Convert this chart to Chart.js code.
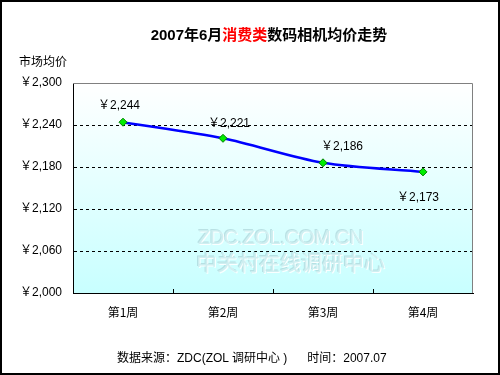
<!DOCTYPE html>
<html>
<head>
<meta charset="utf-8">
<script src="https://cdn.jsdelivr.net/npm/chart.js@4.4.0/dist/chart.umd.min.js"></script>
<style>
    html, body { margin: 0; padding: 0; background: #fff; }
    #box {
        position: relative; width: 500px; height: 375px;
        box-sizing: border-box; border: 2px solid #000; background: #fff;
        font-family: "Liberation Sans", Arial, "Noto Sans CJK SC", sans-serif;
        overflow: hidden;
    }
    #myChart { position: absolute; left: -2px; top: -2px; }
    .txt { position: absolute; white-space: nowrap; color: #000; }
    #title { left: 0; width: 500px; top: 21px; text-align: center; font-size: 15px; font-weight: bold; padding-left: 34px; box-sizing: border-box; }
    #title span { color: #ff0000; }
    #ytitle { left: 17px; top: 50px; font-size: 12px; }
    #foot { left: 115px; top: 346px; font-size: 12px; }
    .wm { color: rgba(205, 238, 240, 0.95); text-shadow: 1px 1px 0 rgba(255,255,255,0.9), -1px -1px 0 rgba(160,200,205,0.55); }
    #wm1 { left: 196px; top: 224px; font-size: 20px; letter-spacing: -0.5px; }
    #wm2 { left: 194px; top: 244px; font-size: 21px; }
</style>
</head>
<body>
<div id="box">
    <canvas id="myChart" width="500" height="375"></canvas>
    <div class="txt wm" id="wm1">ZDC.ZOL.COM.CN</div>
    <div class="txt wm" id="wm2">中关村在线调研中心</div>
    <div class="txt" id="title">2007年6月<span>消费类</span>数码相机均价走势</div>
    <div class="txt" id="ytitle">市场均价</div>
    <div class="txt" id="foot">数据来源：ZDC(ZOL 调研中心 )&nbsp;&nbsp;&nbsp;&nbsp;&nbsp;&nbsp;时间：2007.07</div>
</div>
<script>
// data
var weeks = ['第1周', '第2周', '第3周', '第4周'];
var avgPrice = [2244, 2221, 2186, 2173];
var yMin = 2000;
var yMax = 2300;
var yStep = 60;

// where each value label sits relative to its point (px)
var labelOffsets = [[-4, -17], [6, -15], [19, -16], [-5, 26]];

var numFont = '"Liberation Sans", Arial, "Noto Sans CJK SC", sans-serif';

function yen(v) {
    return '￥' + v.toLocaleString('en-US');
}

// plot background, border, small category ticks, value labels
var excelLook = {
    id: 'excelLook',
    beforeDraw: function (chart) {
        var ctx = chart.ctx, a = chart.chartArea;
        var g = ctx.createLinearGradient(0, a.top, 0, a.bottom);
        g.addColorStop(0, '#ffffff');
        g.addColorStop(1, '#c8ffff');
        ctx.save();
        ctx.fillStyle = g;
        ctx.fillRect(a.left, a.top, a.right - a.left, a.bottom - a.top);
        ctx.restore();
    },
    afterDatasetsDraw: function (chart) {
        var ctx = chart.ctx, a = chart.chartArea;
        var xs = chart.scales.x;
        ctx.save();
        // gray frame top/right
        ctx.strokeStyle = '#808080';
        ctx.lineWidth = 1;
        ctx.beginPath();
        ctx.moveTo(a.left, a.top + 0.5);
        ctx.lineTo(a.right - 0.5, a.top + 0.5);
        ctx.lineTo(a.right - 0.5, a.bottom);
        ctx.stroke();
        // category boundary ticks
        ctx.strokeStyle = '#000';
        ctx.beginPath();
        for (var i = 1; i < weeks.length; i++) {
            var x = Math.round((xs.getPixelForValue(i - 1) + xs.getPixelForValue(i)) / 2) + 0.5;
            ctx.moveTo(x, a.bottom);
            ctx.lineTo(x, a.bottom - 4);
        }
        ctx.stroke();
        // value labels
        ctx.fillStyle = '#000';
        ctx.font = '12px ' + numFont;
        ctx.textAlign = 'center';
        ctx.textBaseline = 'middle';
        var meta = chart.getDatasetMeta(0);
        meta.data.forEach(function (pt, i) {
            ctx.fillText(yen(avgPrice[i]), pt.x + labelOffsets[i][0], pt.y + labelOffsets[i][1]);
        });
        ctx.restore();
    }
};

const data1 = {
    labels: weeks,
    datasets: [{
        label: '市场均价',
        data: avgPrice,
        borderColor: '#0000ff',
        borderWidth: 2.5,
        tension: 0.3,
        pointStyle: 'rectRot',
        pointRadius: 4,
        pointBackgroundColor: '#00ee00',
        pointBorderColor: '#008000',
        pointBorderWidth: 1
    }]
};

const config = {
    type: 'line',
    data: data1,
    options: {
        responsive: false,
        animation: false,
        devicePixelRatio: 1,
        layout: { padding: { left: 0, top: 83, right: 27, bottom: 52 } },
        plugins: {
            legend: { display: false },
            tooltip: { enabled: false }
        },
        scales: {
            x: {
                offset: true,
                afterFit: function (s) { s.height = 30; },
                grid: { display: false },
                border: { color: '#000', width: 1 },
                ticks: {
                    color: '#000',
                    padding: 4,
                    font: { size: 12, family: '"Noto Sans CJK SC", "Liberation Sans", sans-serif' }
                }
            },
            y: {
                min: yMin,
                max: yMax,
                afterFit: function (s) { s.width = 73; },
                afterBuildTicks: function (s) {
                    var t = [];
                    for (var v = yMin; v <= yMax; v += yStep) t.push({ value: v });
                    s.ticks = t;
                },
                border: { color: '#000', width: 1, dash: [3, 3] },
                grid: {
                    drawTicks: false,
                    color: function (c) {
                        return (c.tick.value === yMin || c.tick.value === yMax) ? 'rgba(0,0,0,0)' : '#000';
                    },
                    lineWidth: 1
                },
                ticks: {
                    color: '#000',
                    padding: 11,
                    font: { size: 12, family: numFont },
                    callback: function (v) { return yen(v); }
                }
            }
        }
    },
    plugins: [excelLook]
};

const myChart = new Chart(document.getElementById('myChart'), config);
</script>
</body>
</html>
